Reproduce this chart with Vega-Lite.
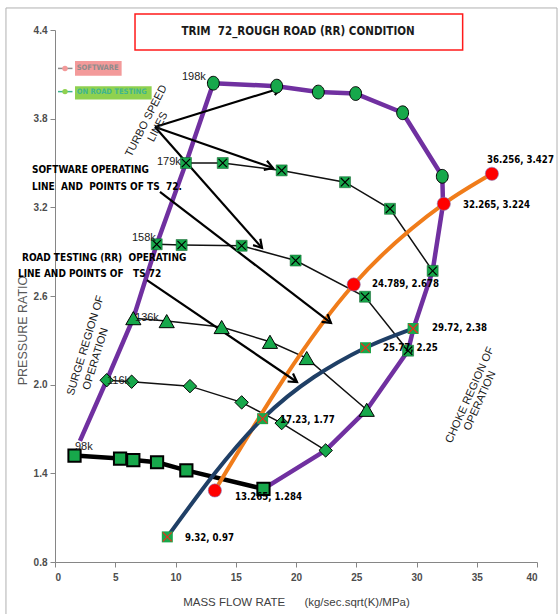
{
  "$schema": "https://vega.github.io/schema/vega-lite/v6.json",
  "width": 482,
  "height": 532,
  "autosize": {"type": "none"},
  "padding": {"left": 55, "top": 30, "right": 22, "bottom": 52},
  "background": "white",
  "config": {"view": {"stroke": null}, "font": "Liberation Sans"},
  "datasets": {
    "frame": [{"x": -4.07, "x2": 41.66, "y": 4.549, "y2": 0.3}],
    "tbox": [{"x": 6.64, "x2": 33.83, "y": 4.508, "y2": 4.265, "t": "TRIM\u00a0 72_ROUGH ROAD (RR) CONDITION", "tx": 20.17, "ty": 4.386}],
    "boundary": [
      {"i": 1, "x": 2.07, "y": 1.62},
      {"i": 2, "x": 4.29, "y": 2.03},
      {"i": 3, "x": 6.5, "y": 2.45},
      {"i": 4, "x": 8.44, "y": 2.95},
      {"i": 5, "x": 10.87, "y": 3.5},
      {"i": 6, "x": 13.14, "y": 4.04},
      {"i": 7, "x": 18.4, "y": 4.02},
      {"i": 8, "x": 21.85, "y": 3.98},
      {"i": 9, "x": 24.95, "y": 3.97},
      {"i": 10, "x": 28.85, "y": 3.84},
      {"i": 11, "x": 32.14, "y": 3.41},
      {"i": 12, "x": 32.2, "y": 3.22},
      {"i": 13, "x": 31.34, "y": 2.77},
      {"i": 14, "x": 29.75, "y": 2.38},
      {"i": 15, "x": 29.3, "y": 2.23},
      {"i": 16, "x": 25.87, "y": 1.83},
      {"i": 17, "x": 22.46, "y": 1.555},
      {"i": 18, "x": 17.3, "y": 1.295}
    ],
    "speed": [
      {"speed": "198k", "x": 13.14, "y": 4.04},
      {"speed": "198k", "x": 18.4, "y": 4.02},
      {"speed": "198k", "x": 21.85, "y": 3.98},
      {"speed": "198k", "x": 24.95, "y": 3.97},
      {"speed": "198k", "x": 28.85, "y": 3.84},
      {"speed": "198k", "x": 32.14, "y": 3.41},
      {"speed": "179k", "x": 10.87, "y": 3.5},
      {"speed": "179k", "x": 13.92, "y": 3.5},
      {"speed": "179k", "x": 18.81, "y": 3.45},
      {"speed": "179k", "x": 24.07, "y": 3.37},
      {"speed": "179k", "x": 27.8, "y": 3.19},
      {"speed": "179k", "x": 31.34, "y": 2.77},
      {"speed": "158k", "x": 8.44, "y": 2.95},
      {"speed": "158k", "x": 10.51, "y": 2.945},
      {"speed": "158k", "x": 15.49, "y": 2.94},
      {"speed": "158k", "x": 19.97, "y": 2.84},
      {"speed": "158k", "x": 25.73, "y": 2.595},
      {"speed": "158k", "x": 29.3, "y": 2.23},
      {"speed": "136k", "x": 6.5, "y": 2.45},
      {"speed": "136k", "x": 9.27, "y": 2.43},
      {"speed": "136k", "x": 13.83, "y": 2.39},
      {"speed": "136k", "x": 17.84, "y": 2.29},
      {"speed": "136k", "x": 20.89, "y": 2.18},
      {"speed": "136k", "x": 25.87, "y": 1.83},
      {"speed": "116k", "x": 4.29, "y": 2.03},
      {"speed": "116k", "x": 6.36, "y": 2.02},
      {"speed": "116k", "x": 11.2, "y": 1.99},
      {"speed": "116k", "x": 15.49, "y": 1.88},
      {"speed": "116k", "x": 18.81, "y": 1.74},
      {"speed": "116k", "x": 22.46, "y": 1.555},
      {"speed": "98k", "x": 1.62, "y": 1.52},
      {"speed": "98k", "x": 5.4, "y": 1.5},
      {"speed": "98k", "x": 6.5, "y": 1.49},
      {"speed": "98k", "x": 8.47, "y": 1.475},
      {"speed": "98k", "x": 10.9, "y": 1.42},
      {"speed": "98k", "x": 17.3, "y": 1.295}
    ],
    "software": [
      {"x": 13.265, "y": 1.284, "t": "13.265, 1.284", "lx": 14.94, "ly": 1.24},
      {"x": 24.789, "y": 2.678, "t": "24.789, 2.678", "lx": 26.31, "ly": 2.681},
      {"x": 32.265, "y": 3.224, "t": "32.265, 3.224", "lx": 33.86, "ly": 3.216},
      {"x": 36.256, "y": 3.427, "t": "36.256, 3.427", "lx": 35.85, "ly": 3.52}
    ],
    "road": [
      {"x": 9.32, "y": 0.97, "t": "9.32, 0.97", "lx": 10.79, "ly": 0.963},
      {"x": 17.23, "y": 1.77, "t": "17.23, 1.77", "lx": 18.67, "ly": 1.761},
      {"x": 25.77, "y": 2.25, "t": "25.77, 2.25", "lx": 27.22, "ly": 2.248},
      {"x": 29.72, "y": 2.38, "t": "29.72, 2.38", "lx": 31.29, "ly": 2.384}
    ],
    "arrows": [
      {"x": 8.3, "y": 3.744, "x2": 18.76, "y2": 4.008},
      {"x": 8.3, "y": 3.744, "x2": 18.09, "y2": 3.466},
      {"x": 8.3, "y": 3.744, "x2": 17.18, "y2": 2.925},
      {"x": 8.71, "y": 3.304, "x2": 22.9, "y2": 2.418},
      {"x": 7.63, "y": 2.708, "x2": 20.08, "y2": 2.018}
    ],
    "speedlabels": [
      {"t": "198k", "x": 10.54, "y": 4.082},
      {"t": "179k", "x": 8.46, "y": 3.507},
      {"t": "158k", "x": 6.39, "y": 2.993},
      {"t": "136k", "x": 6.64, "y": 2.451},
      {"t": "116k", "x": 4.32, "y": 2.025},
      {"t": "98k", "x": 1.66, "y": 1.579}
    ],
    "notes": [
      {"t": "SOFTWARE OPERATING", "x": -1.91, "y": 3.453},
      {"t": "LINE\u00a0 AND\u00a0 POINTS OF TS\u00a0 72.", "x": -1.91, "y": 3.338},
      {"t": "ROAD TESTING (RR)\u00a0 OPERATING", "x": -2.74, "y": 2.857},
      {"t": "LINE AND POINTS OF\u00a0\u00a0 TS 72", "x": -3.07, "y": 2.749}
    ],
    "surge": [
      {"t": "SURGE REGION OF", "x": 2.55, "y": 2.265},
      {"t": "OPERATION", "x": 3.39, "y": 2.174}
    ],
    "turbo": [
      {"t": "TURBO SPEED", "x": 7.59, "y": 3.784},
      {"t": "LINES", "x": 8.55, "y": 3.744}
    ],
    "choke": [
      {"t": "CHOKE REGION OF", "x": 34.44, "y": 1.93},
      {"t": "OPERATION", "x": 35.27, "y": 1.89}
    ],
    "legend": [
      {"item": "SOFTWARE", "x": 0.83, "y": 4.14, "lx": 0.25, "lx2": 1.45, "rx": 1.66, "rx2": 5.53, "ry": 4.19, "ry2": 4.09, "tx": 1.8},
      {"item": "ON  ROAD TESTING", "x": 0.83, "y": 3.983, "lx": 0.25, "lx2": 1.45, "rx": 1.66, "rx2": 8.02, "ry": 4.02, "ry2": 3.93, "tx": 1.8}
    ]
  },
  "encoding": {
    "x": {
      "field": "x", "type": "quantitative",
      "scale": {"domain": [0, 40], "nice": false, "zero": false},
      "axis": {
        "values": [0, 5, 10, 15, 20, 25, 30, 35, 40],
        "grid": false, "domainColor": "#868686", "tickColor": "#868686", "tickSize": 5,
        "labelFont": "Liberation Sans", "labelFontWeight": "bold", "labelFontSize": 10, "labelColor": "#4d4d4d", "labelPadding": 5,
        "titleFont": "Liberation Sans", "titleFontWeight": "normal", "titleFontSize": 11.5, "titleColor": "#404040", "titlePadding": 14
      },
      "title": "MASS FLOW RATE\u00a0\u00a0\u00a0\u00a0\u00a0 (kg/sec.sqrt(K)/MPa)"
    },
    "y": {
      "field": "y", "type": "quantitative",
      "scale": {"domain": [0.8, 4.4], "nice": false, "zero": false},
      "axis": {
        "values": [0.8, 1.4, 2.0, 2.6, 3.2, 3.8, 4.4], "format": ".1f",
        "grid": false, "domainColor": "#868686", "tickColor": "#868686", "tickSize": 5,
        "labelFont": "Liberation Sans", "labelFontWeight": "bold", "labelFontSize": 10, "labelColor": "#4d4d4d", "labelPadding": 3,
        "titleFont": "Liberation Sans", "titleFontWeight": "normal", "titleFontSize": 12.5, "titleColor": "#595959",
        "titleX": -26, "titleY": 300
      },
      "title": "PRESSURE RATIO"
    }
  },
  "layer": [
    {
      "data": {"name": "frame"},
      "mark": {"type": "rect", "fill": null, "stroke": "#b0b0b0", "strokeWidth": 1},
      "encoding": {"x2": {"field": "x2"}, "y2": {"field": "y2"}}
    },
    {
      "data": {"name": "tbox"},
      "mark": {"type": "rect", "fill": "white", "stroke": "#ff1a1a", "strokeWidth": 1.5},
      "encoding": {"x2": {"field": "x2"}, "y2": {"field": "y2"}}
    },
    {
      "data": {"name": "tbox"},
      "mark": {"type": "text", "font": "DejaVu Sans Condensed, sans-serif", "fontWeight": "bold", "fontSize": 11.5, "color": "#1a1a1a", "align": "center", "baseline": "middle"},
      "encoding": {"x": {"field": "tx", "type": "quantitative"}, "y": {"field": "ty", "type": "quantitative"}, "text": {"field": "t"}}
    },
    {
      "data": {"name": "speed"},
      "transform": [{"filter": "datum.speed != '98k' && datum.speed != '198k'"}],
      "mark": {"type": "line", "color": "#111111", "strokeWidth": 1.5},
      "encoding": {"detail": {"field": "speed"}}
    },
    {
      "data": {"name": "speed"},
      "transform": [{"filter": "datum.speed == '98k'"}],
      "mark": {"type": "line", "color": "#000000", "strokeWidth": 4.5},
      "encoding": {}
    },
    {
      "data": {"name": "boundary"},
      "mark": {"type": "line", "color": "#7030a0", "strokeWidth": 4.5, "strokeJoin": "round"},
      "encoding": {"order": {"field": "i", "type": "quantitative"}}
    },
    {
      "data": {"name": "software"},
      "mark": {"type": "line", "color": "#f07c1a", "strokeWidth": 4, "interpolate": "monotone"},
      "encoding": {}
    },
    {
      "data": {"name": "road"},
      "mark": {"type": "line", "color": "#1f3f66", "strokeWidth": 4, "interpolate": "monotone"},
      "encoding": {}
    },
    {
      "data": {"name": "arrows"},
      "mark": {"type": "rule", "color": "#000000", "strokeWidth": 2.2},
      "encoding": {"x2": {"field": "x2"}, "y2": {"field": "y2"}}
    },
    {
      "data": {"name": "arrows"},
      "transform": [{"calculate": "atan2(-(datum.y2 - datum.y) * 147.78, (datum.x2 - datum.x) * 12.05) * 180 / PI", "as": "ang"}],
      "mark": {"type": "point", "shape": "M-1,-0.6L0,0L-1,0.6", "filled": false, "stroke": "#000000", "strokeWidth": 2.2, "size": 260, "opacity": 1},
      "encoding": {"x": {"field": "x2", "type": "quantitative"}, "y": {"field": "y2", "type": "quantitative"}, "angle": {"field": "ang", "type": "quantitative", "scale": null}}
    },
    {
      "data": {"name": "speed"},
      "transform": [{"filter": "datum.speed == '198k'"}],
      "mark": {"type": "point", "shape": "M-0.86,0A0.86,1,0,1,0,0.86,0A0.86,1,0,1,0,-0.86,0Z", "filled": true, "fill": "#17a84b", "stroke": "#000000", "strokeWidth": 1, "size": 190, "opacity": 1},
      "encoding": {}
    },
    {
      "data": {"name": "speed"},
      "transform": [{"filter": "datum.speed == '179k' || datum.speed == '158k'"}],
      "mark": {"type": "point", "shape": "square", "filled": true, "fill": "#17a84b", "stroke": "#0b5a26", "strokeWidth": 0.5, "size": 121, "opacity": 1},
      "encoding": {}
    },
    {
      "data": {"name": "speed"},
      "transform": [{"filter": "datum.speed == '179k' || datum.speed == '158k'"}],
      "mark": {"type": "point", "shape": "M-1,-1L1,1M-1,1L1,-1", "filled": false, "stroke": "#000000", "strokeWidth": 1.2, "size": 70, "opacity": 1},
      "encoding": {}
    },
    {
      "data": {"name": "speed"},
      "transform": [{"filter": "datum.speed == '136k'"}],
      "mark": {"type": "point", "shape": "triangle-up", "filled": true, "fill": "#17a84b", "stroke": "#000000", "strokeWidth": 1, "size": 230, "opacity": 1},
      "encoding": {}
    },
    {
      "data": {"name": "speed"},
      "transform": [{"filter": "datum.speed == '116k'"}],
      "mark": {"type": "point", "shape": "diamond", "filled": true, "fill": "#17a84b", "stroke": "#000000", "strokeWidth": 1, "size": 180, "opacity": 1},
      "encoding": {}
    },
    {
      "data": {"name": "speed"},
      "transform": [{"filter": "datum.speed == '98k'"}],
      "mark": {"type": "point", "shape": "square", "filled": true, "fill": "#17a84b", "stroke": "#000000", "strokeWidth": 2, "size": 150, "opacity": 1},
      "encoding": {}
    },
    {
      "data": {"name": "road"},
      "mark": {"type": "point", "shape": "square", "filled": true, "fill": "#17a84b", "size": 121, "opacity": 1},
      "encoding": {}
    },
    {
      "data": {"name": "road"},
      "mark": {"type": "point", "shape": "M-1,-1L1,1M-1,1L1,-1", "filled": false, "stroke": "#e8301c", "strokeWidth": 1.2, "size": 80, "opacity": 1},
      "encoding": {}
    },
    {
      "data": {"name": "software"},
      "mark": {"type": "point", "shape": "circle", "filled": true, "fill": "#ff0000", "stroke": "#8080c0", "strokeWidth": 0.6, "size": 175, "opacity": 1},
      "encoding": {}
    },
    {
      "data": {"name": "software"},
      "mark": {"type": "text", "font": "DejaVu Sans Condensed, sans-serif", "fontWeight": "bold", "fontSize": 9.6, "color": "#000000", "align": "left", "baseline": "middle"},
      "encoding": {"x": {"field": "lx", "type": "quantitative"}, "y": {"field": "ly", "type": "quantitative"}, "text": {"field": "t"}}
    },
    {
      "data": {"name": "road"},
      "mark": {"type": "text", "font": "DejaVu Sans Condensed, sans-serif", "fontWeight": "bold", "fontSize": 9.6, "color": "#000000", "align": "left", "baseline": "middle"},
      "encoding": {"x": {"field": "lx", "type": "quantitative"}, "y": {"field": "ly", "type": "quantitative"}, "text": {"field": "t"}}
    },
    {
      "data": {"name": "speedlabels"},
      "mark": {"type": "text", "font": "Liberation Sans", "fontSize": 11, "color": "#1a1a1a", "align": "left", "baseline": "middle"},
      "encoding": {"text": {"field": "t"}}
    },
    {
      "data": {"name": "notes"},
      "mark": {"type": "text", "font": "DejaVu Sans Condensed, sans-serif", "fontWeight": "bold", "fontSize": 10, "color": "#000000", "align": "left", "baseline": "middle"},
      "encoding": {"text": {"field": "t"}}
    },
    {
      "data": {"name": "surge"},
      "mark": {"type": "text", "font": "Liberation Sans", "fontSize": 11, "color": "#1a1a1a", "align": "center", "baseline": "middle", "angle": 287},
      "encoding": {"text": {"field": "t"}}
    },
    {
      "data": {"name": "turbo"},
      "mark": {"type": "text", "font": "Liberation Sans", "fontSize": 11, "color": "#1a1a1a", "align": "center", "baseline": "middle", "angle": 297},
      "encoding": {"text": {"field": "t"}}
    },
    {
      "data": {"name": "choke"},
      "mark": {"type": "text", "font": "Liberation Sans", "fontSize": 11, "color": "#1a1a1a", "align": "center", "baseline": "middle", "angle": 294},
      "encoding": {"text": {"field": "t"}}
    },
    {
      "data": {"name": "legend"},
      "mark": {"type": "rect", "opacity": 1},
      "encoding": {
        "x": {"field": "rx", "type": "quantitative"}, "x2": {"field": "rx2"},
        "y": {"field": "ry", "type": "quantitative"}, "y2": {"field": "ry2"},
        "fill": {"field": "item", "type": "nominal", "scale": {"domain": ["SOFTWARE", "ON  ROAD TESTING"], "range": ["#f39a9a", "#8fd14f"]}, "legend": null}
      }
    },
    {
      "data": {"name": "legend"},
      "mark": {"type": "rule", "strokeWidth": 1.5},
      "encoding": {
        "x": {"field": "lx", "type": "quantitative"}, "x2": {"field": "lx2"},
        "color": {"field": "item", "type": "nominal", "scale": {"domain": ["SOFTWARE", "ON  ROAD TESTING"], "range": ["#8c8c8c", "#3fb58f"]}, "legend": null}
      }
    },
    {
      "data": {"name": "legend"},
      "mark": {"type": "point", "shape": "circle", "filled": true, "size": 30, "opacity": 1},
      "encoding": {
        "fill": {"field": "item", "type": "nominal", "scale": {"domain": ["SOFTWARE", "ON  ROAD TESTING"], "range": ["#ff0000", "#1fae6a"]}, "legend": null}
      }
    },
    {
      "data": {"name": "legend"},
      "mark": {"type": "text", "font": "DejaVu Sans Condensed, sans-serif", "fontWeight": "bold", "fontSize": 7.5, "align": "left", "baseline": "middle"},
      "encoding": {
        "x": {"field": "tx", "type": "quantitative"},
        "text": {"field": "item"},
        "color": {"field": "item", "type": "nominal", "scale": {"domain": ["SOFTWARE", "ON  ROAD TESTING"], "range": ["#7a1010", "#1e3d10"]}, "legend": null}
      }
    }
  ]
}
